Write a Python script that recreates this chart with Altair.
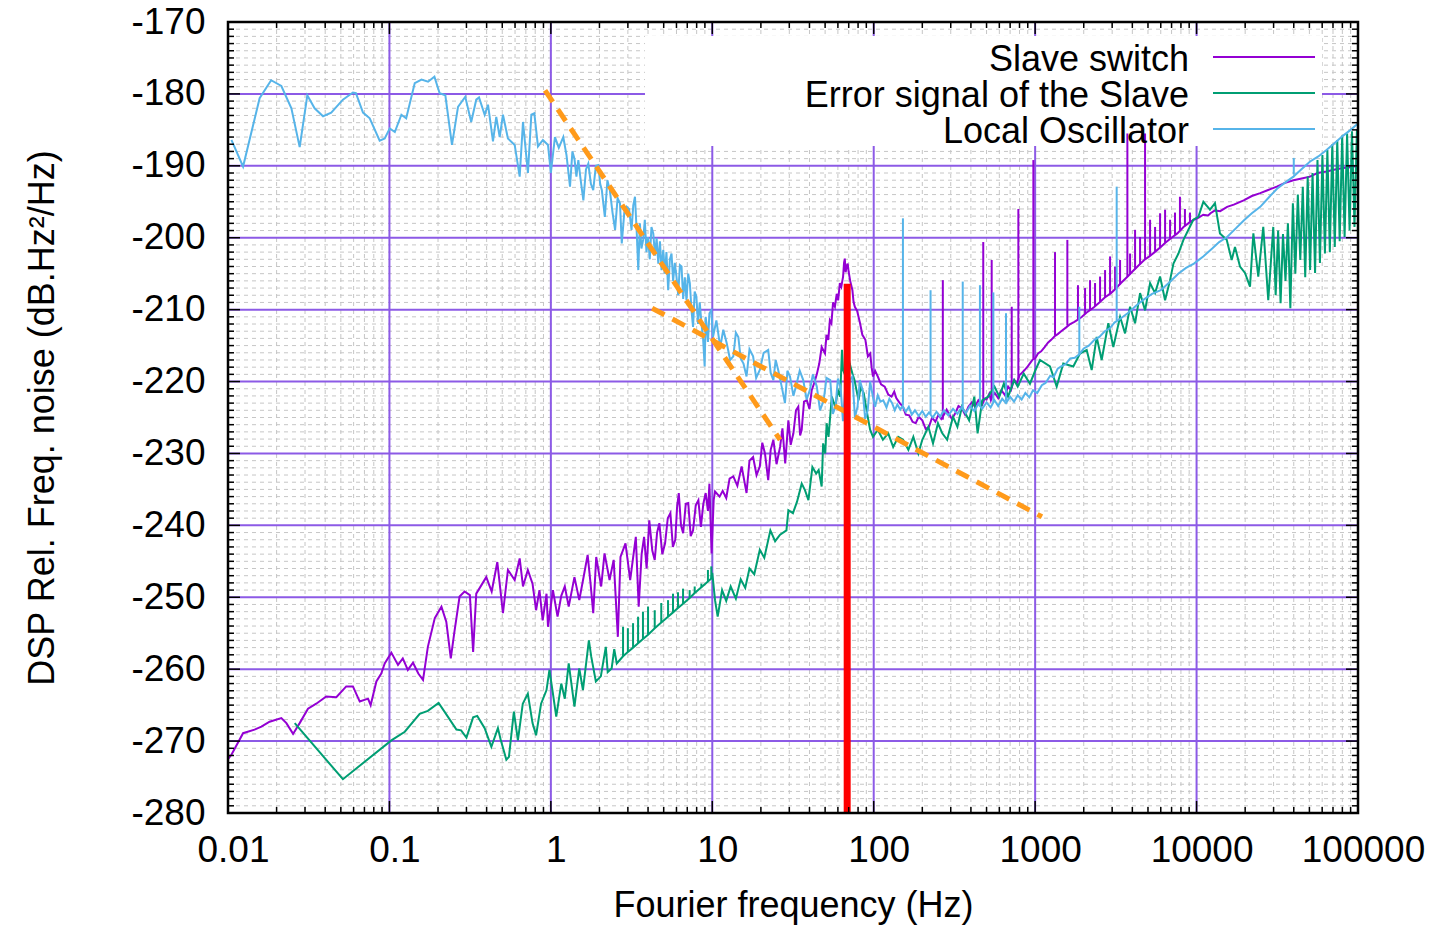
import altair as alt
import pandas as pd

# ---------------- data ----------------
SLAVE_SWITCH = [
    (0.01, -272.5), (0.0105, -271.9), (0.0124, -268.9), (0.0146, -268.4), (0.0161, -268.0), (0.0181, -267.3),
    (0.0214, -266.8), (0.023, -267.5), (0.0253, -269.0), (0.0278, -267.5), (0.0313, -265.5), (0.0352, -264.8),
    (0.0406, -263.8), (0.0469, -263.9), (0.054, -262.4), (0.0594, -262.4), (0.0655, -264.5), (0.0737, -264.1),
    (0.0765, -265.0), (0.083, -261.7), (0.089, -260.6), (0.0935, -259.2), (0.1028, -257.7), (0.113, -259.4),
    (0.121, -258.5), (0.130, -260.1), (0.140, -259.1), (0.151, -260.6), (0.1615, -261.5), (0.173, -256.9),
    (0.191, -252.9), (0.21, -251.3), (0.225, -253.4), (0.24, -258.5), (0.252, -255.0), (0.272, -249.9),
    (0.292, -249.2), (0.315, -249.7), (0.330, -257.6), (0.345, -249.5), (0.398, -247.2), (0.43, -249.2),
    (0.466, -245.1), (0.505, -252.2), (0.542, -246.2), (0.597, -247.6), (0.641, -244.6), (0.672, -248.5),
    (0.72, -246.2), (0.77, -248.1), (0.81, -251.8), (0.85, -249.0), (0.89, -253.2), (0.94, -249.5),
    (0.96, -254.1), (1.03, -249.0), (1.1, -252.7), (1.16, -249.8), (1.22, -248.5), (1.29, -251.3),
    (1.4, -247.2), (1.5, -250.4), (1.61, -246.7), (1.69, -244.1), (1.76, -248.0), (1.83, -252.2),
    (1.91, -244.4), (2.05, -248.5), (2.15, -243.9), (2.31, -247.6), (2.45, -244.8), (2.6, -255.5),
    (2.7, -244.4), (2.9, -242.5), (3.1, -247.6), (3.36, -241.6), (3.5, -251.3), (3.65, -244.0),
    (3.78, -241.6), (3.92, -246.0), (4.07, -239.3), (4.25, -243.5), (4.4, -244.8), (4.55, -241.0),
    (4.7, -239.7), (4.9, -244.0), (5.1, -242.5), (5.3, -239.0), (5.5, -238.3), (5.7, -243.0),
    (5.9, -242.0), (6.05, -237.5), (6.2, -235.5), (6.4, -240.0), (6.6, -241.1), (6.85, -237.0),
    (7.1, -236.9), (7.35, -241.5), (7.6, -240.7), (7.9, -237.2), (8.2, -236.5), (8.5, -240.2),
    (8.8, -237.0), (9.1, -235.5), (9.4, -238.0), (9.6, -234.2), (9.9, -243.9), (10.2, -236.5),
    (10.4, -235.3), (11.1, -236.0), (11.6, -235.2), (12.2, -236.2), (12.8, -233.5), (13.5, -233.2),
    (14.3, -234.5), (15.2, -231.8), (16.3, -235.5), (17.0, -231.0), (17.9, -230.5), (18.8, -233.0),
    (19.7, -231.8), (20.4, -228.5), (21.2, -230.0), (22.2, -233.7), (23.0, -229.5), (23.9, -228.1),
    (25.0, -231.5), (26.3, -229.1), (27.2, -226.5), (28.3, -231.4), (29.6, -225.4), (30.6, -228.8),
    (31.8, -227.2), (33.0, -224.0), (34.1, -223.5), (35.0, -227.5), (35.8, -226.7), (37.0, -222.8),
    (38.5, -222.6), (40.0, -223.8), (41.3, -221.2), (42.8, -220.2), (44.4, -219.0), (46.0, -217.5),
    (47.6, -215.2), (49.9, -216.1), (51.0, -213.5), (52.3, -214.2), (53.5, -211.5), (54.7, -211.9),
    (56.0, -209.0), (57.5, -209.6), (59.0, -207.8), (60.2, -208.7), (61.7, -206.3), (63.0, -206.8),
    (64.6, -205.4), (65.5, -203.5), (66.2, -202.9), (67.0, -204.8), (67.9, -204.0), (69.0, -203.6),
    (69.9, -204.7), (71.5, -206.0), (73.8, -207.3), (75.0, -208.9), (76.4, -209.6), (79.0, -210.2),
    (82.3, -211.9), (85.0, -213.5), (88.8, -214.2), (92.0, -216.5), (95.2, -216.1), (97.0, -218.0),
    (99.0, -219.3), (102, -218.5), (106, -219.3), (111, -220.4), (117, -220.7), (123, -221.8),
    (129, -222.1), (134, -221.4), (138, -222.3), (145, -223.0), (151.6, -223.5), (158, -224.6),
    (166, -224.7), (174, -225.6), (182, -225.8), (190, -224.9), (200, -225.4), (210, -226.6),
    (220, -226.3), (230, -225.0), (241, -225.6), (252, -224.6), (262, -225.2), (274, -224.5),
    (283, -223.9), (291, -224.4), (305, -225.2), (320, -224.4), (335, -223.4), (351, -223.7),
    (368, -224.6), (386, -223.5), (405, -222.9), (424, -223.5), (445, -222.6), (470, -223.2),
    (485, -222.4), (500, -222.5), (520, -221.7), (532, -222.6), (545, -222.0), (562, -221.6),
    (590, -222.3), (618, -221.2), (650, -221.9), (680, -220.7), (708, -221.2), (725, -220.4),
    (745, -219.8), (770, -220.3), (800, -219.1), (820, -218.9), (860, -218.4), (900, -217.9),
    (940, -217.3), (970, -216.9), (1000, -216.8), (1042, -216.1), (1090, -215.8), (1145, -215.2),
    (1200, -214.6), (1257, -214.2), (1320, -213.7), (1380, -213.4), (1450, -213.0), (1550, -212.5),
    (1650, -212.0), (1750, -211.7), (1840, -211.4), (1950, -211.0), (2086, -210.4), (2240, -209.9),
    (2330, -209.6), (2500, -209.0), (2700, -208.3), (2950, -207.7), (3150, -207.1), (3400, -206.3),
    (3740, -205.4), (4050, -204.6), (4400, -203.8), (4740, -203.1), (5100, -202.6), (5500, -202.0),
    (6000, -201.3), (6400, -200.7), (7000, -200.0), (7600, -199.4), (8300, -198.5), (9000, -197.9),
    (9630, -197.5), (10300, -197.2), (11000, -196.8), (11800, -196.9), (12200, -196.6), (13000, -196.2),
    (14000, -196.3), (15460, -195.7), (17000, -195.4), (19580, -194.8), (22000, -194.2), (24800, -193.8),
    (27500, -193.4), (31400, -192.9), (35000, -192.4), (39800, -192.0), (44000, -191.8), (50400, -191.5),
    (56000, -191.0), (63800, -190.8), (72000, -190.5), (80900, -190.3), (90000, -190.2), (100000, -190.0),
]
# (frequency, foot, top) of the narrow spikes
SLAVE_SWITCH_SPIKES = [
    (268, -225.3, -205.9), (477, -223.0, -200.6), (538, -222.2, -203.1), (716, -220.9, -209.6),
    (787, -219.8, -196.0), (975, -216.8, -189.2), (1328, -213.6, -202.0), (1583, -212.2, -200.3),
    (1842, -211.4, -206.6), (2038, -210.6, -207.0), (2188, -210.1, -205.9), (2350, -209.5, -206.3),
    (2524, -208.9, -205.4), (2711, -208.3, -204.5), (2911, -207.8, -202.6), (3127, -207.2, -204.0),
    (3358, -206.5, -203.1), (3727, -205.4, -185.5), (3873, -205.1, -202.2), (4159, -204.4, -198.9),
    (4467, -203.7, -199.9), (4796, -203.0, -185.5), (5152, -202.5, -197.5), (5533, -201.9, -198.5),
    (5941, -201.4, -196.6), (6381, -200.7, -196.1), (6853, -200.1, -197.5), (7350, -199.6, -196.5),
    (7890, -199.0, -194.3), (8470, -198.4, -196.0), (9100, -197.8, -196.5),
]

ERROR_SIGNAL = [
    (0.0259, -267.5), (0.0515, -275.3), (0.1028, -269.9), (0.1245, -268.7), (0.154, -266.2), (0.173, -265.8),
    (0.2017, -264.7), (0.23, -266.6), (0.26, -268.4), (0.278, -268.5), (0.30, -269.5), (0.33, -266.7),
    (0.35, -266.5), (0.389, -268.2), (0.428, -270.8), (0.47, -268.2), (0.49, -269.9), (0.53, -272.6),
    (0.55, -272.2), (0.59, -265.9), (0.625, -269.9), (0.67, -264.8), (0.72, -263.4), (0.77, -267.5),
    (0.81, -269.2), (0.87, -264.8), (0.94, -262.9), (0.98, -260.1), (1.03, -263.4), (1.08, -266.6),
    (1.16, -262.0), (1.22, -264.1), (1.29, -259.2), (1.40, -265.2), (1.50, -259.9), (1.58, -262.9),
    (1.72, -256.0), (1.78, -258.3), (1.90, -261.7), (2.04, -261.0), (2.19, -256.9), (2.25, -260.4),
    (2.38, -259.9), (2.47, -257.2), (2.56, -259.2), (2.80, -258.2), (3.0, -257.6), (3.23, -257.0),
    (3.47, -256.4), (3.72, -255.8), (4.0, -255.2), (4.4, -254.3), (4.83, -253.5), (5.32, -252.7),
    (5.71, -252.1), (6.13, -251.5), (6.59, -250.9), (7.24, -250.1), (7.78, -249.4), (8.56, -248.6),
    (9.4, -247.8), (9.86, -247.4), (10.0, -246.6), (10.4, -250.4), (10.8, -252.7), (11.5, -249.0),
    (12.2, -250.5), (13.0, -248.5), (14.0, -250.2), (15.0, -247.5), (16.0, -248.7), (17.0, -246.0),
    (18.2, -246.8), (19.7, -243.4), (21.0, -244.5), (22.9, -240.7), (24.5, -242.2), (26.3, -241.3),
    (28.8, -240.7), (29.6, -237.9), (31.6, -238.3), (33.5, -236.7), (35.8, -234.2), (37.5, -235.1),
    (39.4, -236.5), (41.7, -231.9), (44.0, -232.8), (45.6, -232.3), (47.6, -234.6), (48.6, -228.6),
    (50.1, -230.0), (51.1, -225.8), (52.5, -227.7), (55.0, -222.1), (57.7, -223.5), (60, -221.2),
    (62, -222.1), (63.6, -215.6), (64.6, -218.4), (67, -219.3), (69.3, -216.1), (71, -217.5),
    (73.8, -218.9), (76, -219.8), (80.5, -222.6), (83, -220.8), (86.7, -221.6), (91.8, -224.9),
    (95, -226.7), (99, -227.7), (106, -226.7), (114, -228.1), (123, -227.2), (132, -229.1),
    (142, -227.7), (152, -228.1), (164, -229.5), (176, -227.7), (189, -230.0), (200, -228.1),
    (218, -226.3), (233, -228.6), (250, -225.8), (266, -227.2), (285, -228.1), (310, -224.9),
    (330, -226.3), (352, -223.5), (390, -225.4), (420, -222.1), (440, -227.2), (470, -222.6),
    (512, -222.1), (560, -220.7), (600, -222.1), (640, -220.3), (680, -222.1), (740, -219.8),
    (780, -220.7), (850, -218.9), (929, -220.3), (1000, -218.5), (1072, -217.0), (1236, -217.9),
    (1360, -220.7), (1494, -217.5), (1723, -217.9), (1896, -216.1), (2086, -215.6), (2240, -218.4),
    (2405, -213.8), (2583, -217.0), (2840, -211.9), (3050, -215.2), (3358, -211.0), (3606, -213.3),
    (3873, -209.6), (4159, -211.9), (4467, -207.7), (4796, -210.1), (5152, -206.3), (5533, -207.7),
    (5941, -205.4), (6381, -208.7), (6853, -205.9), (7190, -203.6), (7720, -202.2), (8290, -200.3),
    (8900, -198.9), (9550, -197.5), (10260, -197.1), (11020, -195.0), (12110, -196.1), (13000, -195.2),
    (13960, -199.4), (15370, -200.3), (16500, -203.1), (17300, -201.3), (18580, -204.0), (19950, -204.9),
    (21430, -206.8), (22480, -199.4), (24110, -205.4), (25890, -198.5), (27800, -208.7), (29860, -198.5),
    (30900, -208.0), (32000, -199.0), (33150, -209.1), (34300, -199.5), (35550, -206.0), (36800, -198.0),
    (38100, -209.8), (39500, -195.2), (40900, -205.0), (42400, -194.0), (43900, -203.1), (45500, -192.9),
    (47100, -205.5), (48800, -191.5), (50500, -204.5), (52300, -191.0), (54200, -204.9), (56100, -189.2),
    (58100, -203.5), (60200, -188.5), (62400, -202.2), (64600, -187.8), (66900, -202.0), (69300, -187.0),
    (71800, -201.3), (74400, -186.4), (77000, -200.5), (79800, -185.8), (82600, -199.9), (85600, -185.5),
    (88700, -199.0), (91800, -185.2), (95100, -198.5), (98500, -185.0), (100000, -190.0),
]
ERROR_SIGNAL_SPIKES = [
    (2.80, -258.2, -254.1), (3.0, -257.6, -254.3), (3.23, -257.0, -253.6), (3.47, -256.4, -252.7),
    (3.72, -255.8, -252.0), (4.0, -255.2, -251.3), (4.4, -254.3, -251.8), (4.83, -253.5, -250.8),
    (5.32, -252.7, -250.4), (5.71, -252.1, -249.5), (6.13, -251.5, -249.3), (6.59, -250.9, -248.8),
    (7.24, -250.1, -249.0), (7.78, -249.4, -248.5), (8.56, -248.6, -248.1), (9.4, -247.8, -246.2),
    (9.86, -247.4, -245.7),
]

LOCAL_OSC = [
    (0.0105, -186.4), (0.0124, -190.1), (0.0157, -180.6), (0.0185, -178.1), (0.0214, -178.9), (0.0247, -182.0),
    (0.0278, -187.4), (0.031, -180.2), (0.0344, -182.0), (0.0388, -183.1), (0.0436, -182.6), (0.0515, -180.8),
    (0.0594, -179.8), (0.062, -179.9), (0.0686, -182.6), (0.0755, -183.4), (0.087, -186.5), (0.0935, -186.2),
    (0.1005, -184.8), (0.108, -185.3), (0.1186, -182.9), (0.127, -183.4), (0.1435, -178.5), (0.158, -178.0),
    (0.1735, -178.3), (0.19, -177.6), (0.2047, -179.9), (0.222, -180.2), (0.244, -187.1), (0.266, -181.8),
    (0.295, -180.4), (0.321, -183.9), (0.345, -180.8), (0.359, -180.5), (0.389, -182.9), (0.408, -181.5),
    (0.438, -186.6), (0.459, -183.2), (0.482, -186.0), (0.505, -182.9), (0.542, -186.2), (0.597, -187.1),
    (0.641, -191.5), (0.672, -183.9), (0.721, -191.0), (0.757, -182.9), (0.79, -182.7), (0.832, -187.3),
    (0.893, -186.4), (0.96, -187.1), (1.0, -191.0), (1.06, -186.0), (1.12, -187.5), (1.194, -186.0),
    (1.25, -188.5), (1.314, -192.9), (1.36, -188.0), (1.4, -189.0), (1.44, -191.5), (1.48, -189.2),
    (1.53, -192.0), (1.59, -194.8), (1.65, -190.5), (1.706, -189.7), (1.77, -192.5), (1.83, -193.4),
    (1.9, -190.0), (1.97, -189.9), (2.02, -192.5), (2.07, -193.4), (2.12, -195.5), (2.16, -197.1),
    (2.24, -192.0), (2.32, -193.4), (2.41, -196.5), (2.5, -198.9), (2.59, -194.5), (2.68, -195.2),
    (2.75, -200.8), (2.85, -196.5), (2.95, -195.7), (3.05, -196.0), (3.16, -198.9), (3.24, -195.5),
    (3.32, -194.3), (3.40, -199.0), (3.48, -204.5), (3.56, -198.0), (3.64, -201.5), (3.73, -200.3),
    (3.82, -197.5), (3.91, -202.0), (4.0, -199.9), (4.1, -203.0), (4.2, -198.5), (4.31, -199.4),
    (4.42, -202.5), (4.52, -200.0), (4.63, -203.6), (4.74, -200.5), (4.85, -204.5), (4.97, -201.7),
    (5.09, -205.0), (5.2, -202.0), (5.33, -207.3), (5.46, -203.0), (5.59, -202.2), (5.72, -206.0),
    (5.86, -203.5), (6.0, -205.4), (6.15, -208.0), (6.3, -203.8), (6.45, -204.0), (6.6, -208.5),
    (6.76, -205.5), (6.92, -208.7), (7.09, -205.0), (7.26, -206.3), (7.43, -210.0), (7.6, -212.4),
    (7.78, -207.5), (7.97, -208.2), (8.16, -212.0), (8.36, -209.0), (8.57, -211.9), (8.77, -214.0),
    (8.97, -217.9), (9.1, -211.0), (9.2, -211.9), (9.4, -214.5), (9.6, -210.5), (9.87, -210.1),
    (10.1, -213.8), (10.6, -211.5), (11.2, -215.2), (11.7, -212.8), (12.3, -214.7), (12.9, -217.0),
    (13.5, -216.5), (14.0, -213.2), (14.5, -213.8), (15.0, -216.8), (15.6, -217.5), (16.3, -219.3),
    (17.0, -215.5), (17.9, -216.5), (18.7, -219.5), (19.7, -218.4), (20.8, -216.0), (22.2, -215.6),
    (23.0, -218.8), (23.9, -219.8), (24.7, -217.0), (25.6, -218.4), (26.8, -220.5), (28.2, -223.0),
    (29.2, -218.5), (30.3, -219.3), (31.8, -222.0), (33.3, -220.3), (34.8, -218.5), (36.6, -219.8),
    (38.4, -222.5), (40.2, -221.2), (42.0, -219.0), (44.4, -220.7), (46.5, -224.0), (49.0, -222.6),
    (51.0, -219.5), (53.8, -219.8), (55.8, -224.5), (58.0, -223.5), (60.0, -219.6), (62.3, -220.7),
    (64.5, -225.5), (66.5, -221.0), (68.6, -224.4), (71.0, -219.8), (73.8, -219.3), (76.5, -225.0),
    (79.4, -223.5), (82.0, -219.8), (85.4, -221.2), (88.5, -225.2), (91.8, -224.0), (95.0, -220.0),
    (98.8, -222.1), (102, -223.5), (106, -221.9), (110, -222.8), (114.6, -222.6), (120, -223.6),
    (125, -222.4), (130, -223.0), (135, -224.0), (140, -223.2), (146, -223.9), (151, -223.4),
    (158, -224.2), (165, -223.5), (172, -224.6), (180, -224.0), (190, -224.8), (200, -224.1),
    (210, -224.9), (220, -224.3), (232, -225.0), (245, -224.2), (258, -224.9), (272, -224.0),
    (290, -224.7), (310, -223.8), (330, -224.5), (350, -223.6), (372, -224.4), (395, -223.4),
    (420, -224.1), (445, -223.1), (470, -223.8), (500, -222.9), (530, -223.6), (560, -222.6),
    (590, -223.4), (625, -222.4), (660, -223.0), (700, -222.1), (740, -222.8), (780, -221.9),
    (825, -222.5), (870, -221.6), (920, -222.2), (970, -221.2), (1030, -221.6), (1100, -220.5),
    (1160, -220.2), (1240, -219.2), (1300, -219.4), (1380, -218.2), (1450, -217.9), (1540, -217.6),
    (1650, -216.8), (1760, -216.7), (1878, -216.2), (2000, -215.4), (2150, -215.0), (2330, -214.2),
    (2500, -213.8), (2700, -213.0), (2900, -212.6), (3100, -211.8), (3350, -211.3), (3740, -210.5),
    (4200, -209.5), (4700, -208.6), (5300, -207.8), (6000, -207.3), (6800, -206.2), (7700, -205.0),
    (8600, -204.2), (9630, -203.6), (11000, -202.6), (12500, -201.5), (13800, -200.6), (15460, -199.9),
    (17500, -198.7), (19600, -197.6), (22000, -196.6), (24800, -195.7), (28000, -194.4), (31500, -193.2),
    (35500, -192.3), (39800, -191.5), (45000, -190.4), (50500, -189.4), (56800, -188.7), (63800, -187.8),
    (72000, -186.8), (81000, -185.8), (90000, -185.0), (100000, -184.1),
]
LOCAL_OSC_SPIKES = [
    (151.7, -223.3, -197.3), (225, -224.5, -207.3), (356, -223.9, -206.1), (455, -223.5, -206.6),
    (551, -222.9, -207.6), (660, -222.7, -210.5), (1878, -216.2, -209.6), (3200, -211.5, -192.9),
    (40000, -191.2, -188.9),
]

ASYMPTOTE_STEEP = [(0.92, -179.5), (26.3, -228.1)]
ASYMPTOTE_SHALLOW = [(4.24, -209.8), (1102, -238.8)]
RED_MARKER = [(68.5, -206.4, -280.0)]

LEGEND_LABELS = ["Slave switch", "Error signal of the Slave", "Local Oscillator"]

X_MAJOR = [0.01, 0.1, 1, 10, 100, 1000, 10000, 100000]
X_MINOR = [m * d for d in [0.01, 0.1, 1, 10, 100, 1000, 10000] for m in range(2, 10)]
Y_MAJOR = list(range(-280, -169, 10))
Y_MINOR = [v for v in range(-280, -169) if v % 10 != 0]

# ---------------- styling ----------------
W, H = 1130, 791
FONT = "Liberation Sans"
C_PURPLE = "#9400d3"
C_GREEN = "#009e73"
C_BLUE = "#56b4e9"
C_GRID = "#8c5ae6"
C_MINOR = "#c6c6c6"
LW = 2

xscale = alt.Scale(type="log", domain=[0.01, 100000], nice=False)
yscale = alt.Scale(domain=[-280, -170], nice=False, zero=False)

x_axis = alt.Axis(
    values=X_MAJOR, title="Fourier frequency (Hz)",
    labelExpr="datum.value < 0.05 ? '0.01' : (datum.value < 0.5 ? '0.1' : format(datum.value, 'd'))",
    labelFont=FONT, labelFontSize=37, labelColor="black", labelPadding=19, labelOffset=5,
    labelFlush=False, labelOverlap=False, labelBound=False,
    ticks=False, domain=False, grid=False,
    titleFont=FONT, titleFontSize=36, titleFontWeight="normal", titleColor="black",
    titleBaseline="middle", titleY=92,
)
y_axis = alt.Axis(
    values=Y_MAJOR, title="DSP Rel. Freq. noise (dB.Hz²/Hz)",
    labelExpr="'' + datum.value",
    labelFont=FONT, labelFontSize=37, labelColor="black", labelPadding=23,
    labelOverlap=False, labelBound=False, labelFlush=False,
    ticks=False, domain=False, grid=False,
    titleFont=FONT, titleFontSize=36, titleFontWeight="normal", titleColor="black",
    titleAngle=270, titleBaseline="middle", titleX=-186, titleY=H / 2,
)


def X():
    return alt.X("f:Q", scale=xscale, axis=x_axis)


def Y():
    return alt.Y("v:Q", scale=yscale, axis=y_axis)


def pairs(rows):
    return pd.DataFrame(rows, columns=["f", "v"])


def triples(rows):
    return pd.DataFrame(rows, columns=["f", "v", "v2"])


one = pd.DataFrame({"a": [0]})
layers = []

# minor grid (dashed grey)
layers.append(alt.Chart(pd.DataFrame({"f": X_MINOR})).mark_rule(
    color=C_MINOR, strokeWidth=1, strokeDash=[4, 4]).encode(x=X(), y=alt.value(0), y2=alt.value(H)))
layers.append(alt.Chart(pd.DataFrame({"v": Y_MINOR})).mark_rule(
    color=C_MINOR, strokeWidth=1, strokeDash=[4, 4]).encode(y=Y(), x=alt.value(0), x2=alt.value(W)))
# major grid (purple)
layers.append(alt.Chart(pd.DataFrame({"f": X_MAJOR})).mark_rule(
    color=C_GRID, strokeWidth=2).encode(x=X(), y=alt.value(0), y2=alt.value(H)))
layers.append(alt.Chart(pd.DataFrame({"v": Y_MAJOR})).mark_rule(
    color=C_GRID, strokeWidth=2).encode(y=Y(), x=alt.value(0), x2=alt.value(W)))

# opaque key box
layers.append(alt.Chart(one).mark_rect(color="white").encode(
    x=alt.value(417), x2=alt.value(1094), y=alt.value(14), y2=alt.value(124)))

# series
layers.append(alt.Chart(pairs(SLAVE_SWITCH)).mark_line(color=C_PURPLE, strokeWidth=LW, clip=True).encode(
    x=X(), y=Y()))
layers.append(alt.Chart(triples(SLAVE_SWITCH_SPIKES)).mark_rule(color=C_PURPLE, strokeWidth=LW, clip=True).encode(
    x=X(), y=Y(), y2="v2:Q"))
layers.append(alt.Chart(pairs(ERROR_SIGNAL)).mark_line(color=C_GREEN, strokeWidth=LW, clip=True).encode(
    x=X(), y=Y()))
layers.append(alt.Chart(triples(ERROR_SIGNAL_SPIKES)).mark_rule(color=C_GREEN, strokeWidth=LW, clip=True).encode(
    x=X(), y=Y(), y2="v2:Q"))
layers.append(alt.Chart(pairs(LOCAL_OSC)).mark_line(color=C_BLUE, strokeWidth=LW, clip=True).encode(
    x=X(), y=Y()))
layers.append(alt.Chart(triples(LOCAL_OSC_SPIKES)).mark_rule(color=C_BLUE, strokeWidth=LW, clip=True).encode(
    x=X(), y=Y(), y2="v2:Q"))

# asymptotes and marker
for seg in (ASYMPTOTE_STEEP, ASYMPTOTE_SHALLOW):
    layers.append(alt.Chart(pairs(seg)).mark_line(color="#ff9a1a", strokeWidth=5, strokeDash=[14, 9],
                                                    clip=True).encode(x=X(), y=Y()))
layers.append(alt.Chart(triples(RED_MARKER)).mark_rule(color="#ff0000", strokeWidth=7, clip=True).encode(
    x=X(), y=Y(), y2="v2:Q"))

# border ticks (pointing inward)
for vals, ln in ((X_MAJOR, 12), (X_MINOR, 6)):
    d = pd.DataFrame({"f": vals})
    layers.append(alt.Chart(d).mark_rule(color="black", strokeWidth=1.5).encode(
        x=X(), y=alt.value(H), y2=alt.value(H - ln)))
    layers.append(alt.Chart(d).mark_rule(color="black", strokeWidth=1.5).encode(
        x=X(), y=alt.value(0), y2=alt.value(ln)))
for vals, ln in ((Y_MAJOR, 12), (Y_MINOR, 6)):
    d = pd.DataFrame({"v": vals})
    layers.append(alt.Chart(d).mark_rule(color="black", strokeWidth=1.5).encode(
        y=Y(), x=alt.value(0), x2=alt.value(ln)))
    layers.append(alt.Chart(d).mark_rule(color="black", strokeWidth=1.5).encode(
        y=Y(), x=alt.value(W - ln), x2=alt.value(W)))

# frame
layers.append(alt.Chart(one).mark_rect(fillOpacity=0, stroke="black", strokeWidth=2.5).encode(
    x=alt.value(0), x2=alt.value(W), y=alt.value(0), y2=alt.value(H)))

# key
for label, color, ty, ly in zip(LEGEND_LABELS, [C_PURPLE, C_GREEN, C_BLUE], [38, 74, 110], [35, 71, 107]):
    layers.append(alt.Chart(one).mark_text(
        text=label, align="right", baseline="middle", font=FONT, fontSize=36, color="black").encode(
        x=alt.value(961), y=alt.value(ty)))
    layers.append(alt.Chart(one).mark_rule(color=color, strokeWidth=LW).encode(
        x=alt.value(985), x2=alt.value(1087), y=alt.value(ly)))

chart = alt.layer(*layers).properties(
    width=W, height=H,
    padding={"left": 228, "top": 22, "right": 73, "bottom": 114},
    autosize=alt.AutoSizeParams(type="none"),
    background="white",
).configure_view(stroke=None)

chart.save("out.html", embed_options={"renderer": "svg", "actions": False})
